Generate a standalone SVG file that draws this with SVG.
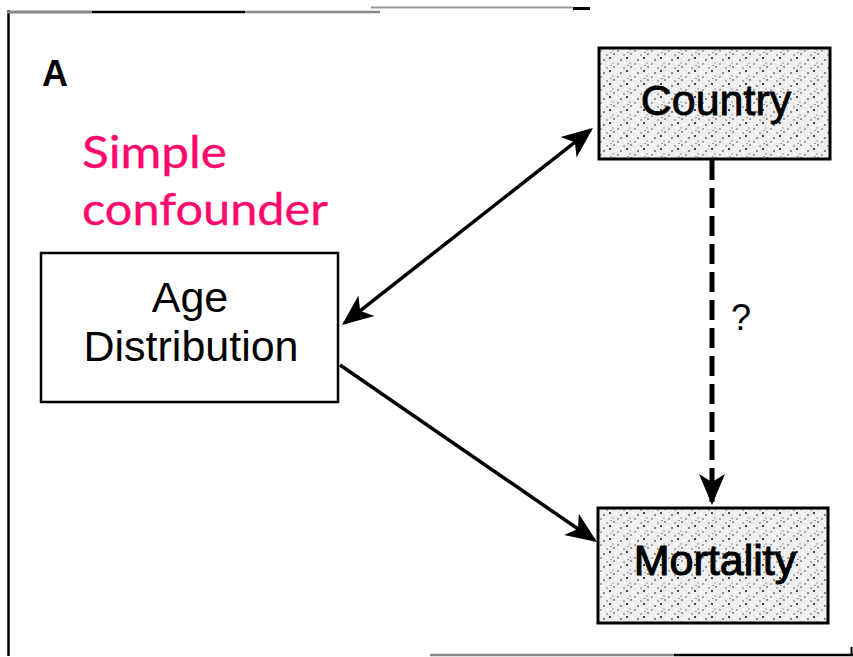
<svg xmlns="http://www.w3.org/2000/svg" width="853" height="657" viewBox="0 0 853 657">
  <style>
    .label { font-family: "Liberation Sans", Arial, sans-serif; fill: #000; text-anchor: middle; }
    .shaded { fill: url(#stipple); stroke: #000; stroke-width: 3; }
    .plain { fill: #fff; stroke: #000; stroke-width: 2.5; }
    .edge { fill: none; stroke: #000; stroke-width: 3.5; }
    .dashed { fill: none; stroke: #000; stroke-width: 5; stroke-dasharray: 20 8; }
    .note { font-family: "Lato", "DejaVu Sans", sans-serif; fill: #ff0a6c; stroke: #ff0a6c; stroke-width: 0.35; }
    .frame { fill: none; stroke-linecap: butt; }
  </style>
  <defs>
    <!-- grainy halftone fill used for the shaded boxes -->
    <pattern id="stipple" width="17" height="13" patternUnits="userSpaceOnUse">
      <rect width="17" height="13" fill="#eeeeee"/>
      <rect x="1" y="1" width="2" height="2" fill="#9a9a9a"/>
      <rect x="6" y="0" width="2" height="2" fill="#fff"/>
      <rect x="11" y="2" width="2" height="2" fill="#b0b0b0"/>
      <rect x="14" y="5" width="2" height="2" fill="#444"/>
      <rect x="3" y="6" width="2" height="2" fill="#fff"/>
      <rect x="8" y="7" width="2" height="2" fill="#8a8a8a"/>
      <rect x="0" y="10" width="2" height="2" fill="#c4c4c4"/>
      <rect x="12" y="10" width="2" height="2" fill="#fff"/>
      <rect x="5" y="11" width="2" height="2" fill="#a8a8a8"/>
      <rect x="9" y="3" width="1" height="2" fill="#fff"/>
      <rect x="15" y="0" width="2" height="1" fill="#9c9c9c"/>
    </pattern>
    <marker id="head" viewBox="-30 -14 34 28" refX="0" refY="0" markerWidth="34" markerHeight="28"
            markerUnits="userSpaceOnUse" orient="auto-start-reverse">
      <path d="M3,0 L-28,-13 L-20,0 L-28,13 Z" fill="#000"/>
    </marker>
  </defs>

  <!-- panel frame -->
  <g id="frame" class="frame">
    <line x1="8.5" y1="10" x2="8.5" y2="656" stroke="#000" stroke-width="2.5"/>
    <line x1="7" y1="12" x2="92" y2="12" stroke="#888" stroke-width="3"/>
    <line x1="92" y1="12" x2="245" y2="12" stroke="#000" stroke-width="2.5"/>
    <line x1="245" y1="12" x2="380" y2="12" stroke="#888" stroke-width="2.5"/>
    <line x1="371" y1="7.5" x2="573" y2="7.5" stroke="#999" stroke-width="2"/>
    <line x1="573" y1="8.5" x2="590" y2="8.5" stroke="#000" stroke-width="3"/>
    <line x1="430" y1="655" x2="674" y2="655" stroke="#888" stroke-width="2.5"/>
    <line x1="674" y1="655" x2="853" y2="655" stroke="#000" stroke-width="2.5"/>
    <line x1="851.5" y1="647" x2="851.5" y2="656" stroke="#000" stroke-width="2"/>
  </g>

  <!-- panel letter and annotation -->
  <text x="42" y="86" font-family="Liberation Sans, Arial, sans-serif" font-weight="bold" font-size="36" fill="#000">A</text>
  <g id="annotation" class="note" font-size="44">
    <text x="82" y="168" textLength="145" lengthAdjust="spacingAndGlyphs">Simple</text>
    <text x="82" y="225" textLength="246" lengthAdjust="spacingAndGlyphs">confounder</text>
  </g>

  <!-- connectors -->
  <g id="connectors">
    <path class="edge" d="M344.4,323.1 L590.6,129.9" marker-start="url(#head)" marker-end="url(#head)"/>
    <path class="edge" d="M340,365 L594.5,540.3" marker-end="url(#head)"/>
    <path class="dashed" d="M712,160 L712,502" marker-end="url(#head)"/>
    <text class="label" x="741" y="330" font-size="36">?</text>
  </g>

  <!-- nodes -->
  <g id="age-distribution">
    <rect class="plain" x="41" y="253" width="297" height="149"/>
    <text class="label" x="190" y="312" font-size="43">Age</text>
    <text class="label" x="191" y="361" font-size="43">Distribution</text>
  </g>
  <g id="country">
    <rect class="shaded" x="599" y="48" width="231" height="111"/>
    <text class="label" x="716" y="115" font-size="43" stroke="#000" stroke-width="0.8">Country</text>
  </g>
  <g id="mortality">
    <rect class="shaded" x="598" y="508" width="230" height="115"/>
    <text class="label" x="715" y="575" font-size="43" stroke="#000" stroke-width="1.1">Mortality</text>
  </g>
</svg>
